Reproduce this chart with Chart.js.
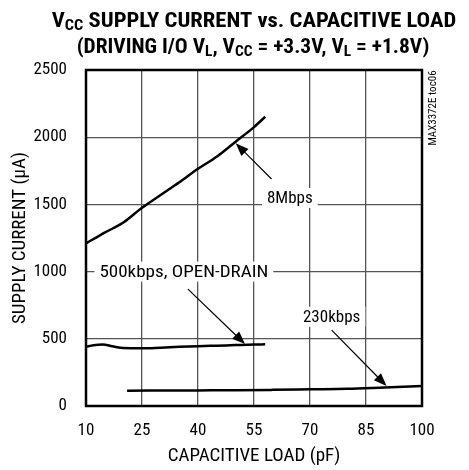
<!DOCTYPE html>
<html>
<head>
<meta charset="utf-8">
<script src="https://cdn.jsdelivr.net/npm/chart.js@4/dist/chart.umd.min.js"></script>
<style>
  html, body { margin: 0; padding: 0; background: #fff; }
</style>
</head>
<body>
<canvas id="chart" width="469" height="470"></canvas>
<script>
// capacitive load (pF) and supply current (uA) per curve
const load8M = [10, 15, 20, 25, 30, 35, 40, 45, 50, 55, 58];
const current8M = [1210, 1290, 1365, 1475, 1570, 1665, 1765, 1855, 1965, 2075, 2152];

const load500k = [10, 12, 14.5, 17, 20, 25, 30, 35, 40, 45, 50, 55, 58];
const current500k = [440, 452, 457, 445, 431, 429, 434, 440, 445, 449, 453, 457, 459];

const load230k = [21, 30, 40, 50, 60, 70, 80, 90, 100];
const current230k = [114, 115, 116, 117, 120, 124, 128, 138, 148];

const xTicks = [10, 25, 40, 55, 70, 85, 100];
const yTicks = [0, 500, 1000, 1500, 2000, 2500];

const FONT = '"Roboto Condensed", "Liberation Sans Narrow", "Arial Narrow", sans-serif';

const toPoints = (xs, ys) => xs.map((x, i) => ({ x, y: ys[i] }));

// labels + arrows, given in data units
const notes = [
  { text: '8Mbps', at: [64.6, 1548], from: [59.7, 1689], to: [50.1, 1955], sx: 1 },
  { text: '500kbps, OPEN-DRAIN', at: [36.2, 1000], from: [37.3, 870], to: [52.6, 461], sx: 1.12 },
  { text: '230kbps', at: [75.8, 664], from: [75.8, 565], to: [90.5, 149], sx: 1 },
];

// text with subscripts, squeezed/stretched horizontally by sx
const drawRich = (ctx, parts, cx, y, size, sx) => {
  const measure = (p) => {
    ctx.font = 'bold ' + (p.sub ? size * 0.72 : size) + 'px ' + FONT;
    return ctx.measureText(p.t).width;
  };
  const total = parts.reduce((s, p) => s + measure(p), 0);
  ctx.save();
  ctx.translate(cx, y);
  ctx.scale(sx, 1);
  let x = -total / 2;
  parts.forEach((p) => {
    const w = measure(p);
    ctx.fillText(p.t, x, p.sub ? 3 : 0);
    x += w;
  });
  ctx.restore();
};

const extras = {
  id: 'extras',
  afterDraw(chart) {
    const { ctx, chartArea: a, scales: { x, y } } = chart;
    ctx.save();

    // frame
    ctx.strokeStyle = '#000';
    ctx.lineWidth = 2.5;
    ctx.strokeRect(a.left, a.top, a.right - a.left, a.bottom - a.top);

    // title
    ctx.fillStyle = '#000';
    ctx.textAlign = 'left';
    ctx.textBaseline = 'alphabetic';
    drawRich(ctx, [{ t: 'V' }, { t: 'CC', sub: true }, { t: ' SUPPLY CURRENT vs. CAPACITIVE LOAD' }], 254, 27, 20, 1.13);
    drawRich(ctx, [
      { t: '(DRIVING I/O V' }, { t: 'L', sub: true }, { t: ', V' }, { t: 'CC', sub: true },
      { t: ' = +3.3V, V' }, { t: 'L', sub: true }, { t: ' = +1.8V)' },
    ], 253, 53, 20, 1.07);

    // side note
    ctx.save();
    ctx.translate(433, 108);
    ctx.rotate(-Math.PI / 2);
    ctx.font = '11px ' + FONT;
    ctx.textAlign = 'center';
    ctx.textBaseline = 'middle';
    ctx.fillText('MAX3372E toc06', 0, 0);
    ctx.restore();

    // callouts
    ctx.font = '17px ' + FONT;
    ctx.textAlign = 'center';
    ctx.textBaseline = 'middle';
    notes.forEach((n) => {
      const cx = x.getPixelForValue(n.at[0]);
      const cy = y.getPixelForValue(n.at[1]);
      const w = ctx.measureText(n.text).width * n.sx;
      ctx.fillStyle = '#fff';
      ctx.fillRect(cx - w / 2 - 5, cy - 10, w + 10, 20);
      ctx.fillStyle = '#000';
      ctx.save();
      ctx.translate(cx, cy + 1);
      ctx.scale(n.sx, 1);
      ctx.fillText(n.text, 0, 0);
      ctx.restore();

      const x0 = x.getPixelForValue(n.from[0]);
      const y0 = y.getPixelForValue(n.from[1]);
      const x1 = x.getPixelForValue(n.to[0]);
      const y1 = y.getPixelForValue(n.to[1]);
      const ang = Math.atan2(y1 - y0, x1 - x0);
      ctx.strokeStyle = '#000';
      ctx.lineWidth = 1.2;
      ctx.beginPath();
      ctx.moveTo(x0, y0);
      ctx.lineTo(x1 - 8 * Math.cos(ang), y1 - 8 * Math.sin(ang));
      ctx.stroke();
      ctx.beginPath();
      ctx.moveTo(x1, y1);
      ctx.lineTo(x1 - 13 * Math.cos(ang) + 5 * Math.sin(ang), y1 - 13 * Math.sin(ang) - 5 * Math.cos(ang));
      ctx.lineTo(x1 - 13 * Math.cos(ang) - 5 * Math.sin(ang), y1 - 13 * Math.sin(ang) + 5 * Math.cos(ang));
      ctx.closePath();
      ctx.fill();
    });

    ctx.restore();
  },
};

const lineStyle = {
  borderColor: '#000',
  borderWidth: 2.5,
  pointRadius: 0,
  cubicInterpolationMode: 'monotone',
  fill: false,
};

new Chart(document.getElementById('chart'), {
  type: 'line',
  data: {
    datasets: [
      { label: '8Mbps', data: toPoints(load8M, current8M), ...lineStyle },
      { label: '500kbps, OPEN-DRAIN', data: toPoints(load500k, current500k), ...lineStyle },
      { label: '230kbps', data: toPoints(load230k, current230k), ...lineStyle },
    ],
  },
  options: {
    responsive: false,
    animation: false,
    layout: { padding: { top: 70, right: 47, left: 0, bottom: 0 } },
    plugins: { legend: { display: false }, tooltip: { enabled: false } },
    scales: {
      x: {
        type: 'linear',
        min: 10,
        max: 100,
        afterBuildTicks: (s) => { s.ticks = xTicks.map((v) => ({ value: v })); },
        afterFit: (s) => { s.height = 64; },
        grid: { color: '#555', lineWidth: 1.3, drawTicks: false },
        border: { display: false },
        ticks: { color: '#000', padding: 15, font: { family: FONT, size: 17 }, callback: (v) => String(v) },
        title: {
          display: true,
          text: 'CAPACITIVE LOAD (pF)',
          color: '#000',
          font: { family: FONT, size: 19 },
          padding: { top: 3, bottom: 2 },
        },
      },
      y: {
        min: 0,
        max: 2500,
        afterBuildTicks: (s) => { s.ticks = yTicks.map((v) => ({ value: v })); },
        afterFit: (s) => { s.width = 86; },
        grid: { color: '#555', lineWidth: 1.3, drawTicks: false },
        border: { display: false },
        ticks: { color: '#000', padding: 19, font: { family: FONT, size: 17 }, callback: (v) => String(v) },
        title: {
          display: true,
          text: 'SUPPLY CURRENT (µA)',
          color: '#000',
          font: { family: FONT, size: 19 },
          padding: { top: 9, bottom: 0 },
        },
      },
    },
  },
  plugins: [extras],
});
</script>
</body>
</html>
